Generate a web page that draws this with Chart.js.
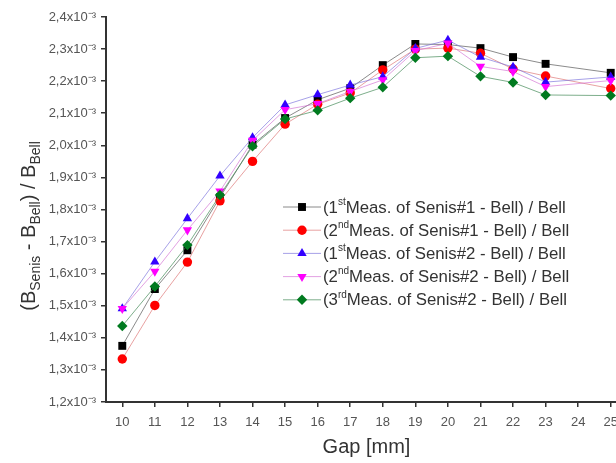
<!DOCTYPE html>
<html>
<head>
<meta charset="utf-8">
<script src="https://cdn.jsdelivr.net/npm/chart.js@4.4.0/dist/chart.umd.min.js"></script>
<style>
  html, body { margin: 0; padding: 0; background: #fff; overflow: hidden; }
  #wrap { width: 640px; height: 463px; }
</style>
</head>
<body>
<div id="wrap"><canvas id="gapChart" width="640" height="463"></canvas></div>
<script>
// values in units of 10^-3
const gaps = [10, 11, 12, 13, 14, 15, 16, 17, 18, 19, 20, 21, 22, 23, 25];
const xTicks = [10, 11, 12, 13, 14, 15, 16, 17, 18, 19, 20, 21, 22, 23, 24, 25];
const yTicks = [1.2, 1.3, 1.4, 1.5, 1.6, 1.7, 1.8, 1.9, 2.0, 2.1, 2.2, 2.3, 2.4];

const senis1Meas1 = [1.375, 1.552, 1.673, 1.838, 2.002, 2.085, 2.142, 2.178, 2.250, 2.316, 2.314, 2.303, 2.275, 2.254, 2.226];
const senis1Meas2 = [1.334, 1.501, 1.636, 1.827, 1.950, 2.066, 2.128, 2.163, 2.235, 2.300, 2.303, 2.287, 2.238, 2.216, 2.177];
const senis2Meas1 = [1.491, 1.637, 1.772, 1.905, 2.024, 2.126, 2.158, 2.188, 2.214, 2.302, 2.328, 2.275, 2.244, 2.197, 2.213];
const senis2Meas2 = [1.491, 1.607, 1.736, 1.857, 2.015, 2.111, 2.130, 2.168, 2.204, 2.295, 2.318, 2.246, 2.230, 2.183, 2.202];
const senis2Meas3 = [1.437, 1.560, 1.689, 1.845, 1.997, 2.082, 2.109, 2.147, 2.181, 2.273, 2.278, 2.215, 2.196, 2.157, 2.155];

// legend text pieces: [before, superscript, after]
const legendLabels = [
    ['(1', 'st', 'Meas. of Senis#1 - Bell) / Bell'],
    ['(2', 'nd', 'Meas. of Senis#1 - Bell) / Bell'],
    ['(1', 'st', 'Meas. of Senis#2 - Bell) / Bell'],
    ['(2', 'nd', 'Meas. of Senis#2 - Bell) / Bell'],
    ['(3', 'rd', 'Meas. of Senis#2 - Bell) / Bell']
];

const FONT = "'Liberation Sans', Arial, sans-serif";
const toPoints = (vals) => vals.map((v, i) => ({ x: gaps[i], y: v }));

const makeSet = (vals, marker, line, style, radius, rotation, order) => ({
    data: toPoints(vals),
    borderColor: line,
    borderWidth: 1,
    backgroundColor: marker,
    pointBackgroundColor: marker,
    pointBorderColor: marker,
    pointBorderWidth: 0,
    pointStyle: style,
    pointRadius: radius,
    pointRotation: rotation,
    tension: 0,
    order: order
});

const datasets = [
    makeSet(senis1Meas1, '#000000', 'rgba(90,90,90,0.7)', 'rect', 5.6, 0, 5),
    makeSet(senis1Meas2, '#ff0000', 'rgba(220,110,110,0.65)', 'circle', 4.7, 0, 4),
    makeSet(senis2Meas1, '#3300ff', 'rgba(120,110,220,0.65)', 'triangle', 5.4, 0, 3),
    makeSet(senis2Meas2, '#ff00ff', 'rgba(210,110,210,0.65)', 'triangle', 5.4, 180, 2),
    makeSet(senis2Meas3, '#007a1f', 'rgba(70,140,90,0.7)', 'rectRot', 5.2, 0, 1)
];

// y-axis title with subscripts + in-plot legend with superscripts
const annotations = {
    id: 'annotations',
    afterDraw(chart) {
        const ctx = chart.ctx;
        ctx.save();
        ctx.fillStyle = '#333';
        ctx.textBaseline = 'alphabetic';

        // y title
        const parts = [['(B', 0], ['Senis', 1], [' - B', 0], ['Bell', 1], [') / B', 0], ['Bell', 1]];
        const big = '20px ' + FONT, small = '14px ' + FONT;
        let total = 0;
        parts.forEach(([t, sub]) => { ctx.font = sub ? small : big; total += ctx.measureText(t).width; });
        ctx.translate(35, 226);
        ctx.rotate(-Math.PI / 2);
        let x = -total / 2;
        parts.forEach(([t, sub]) => {
            ctx.font = sub ? small : big;
            ctx.fillText(t, x, sub ? 5 : 0);
            x += ctx.measureText(t).width;
        });
        ctx.restore();

        // legend
        ctx.save();
        chart.data.datasets.forEach((ds, i) => {
            const y = 207 + i * 23.2;
            ctx.strokeStyle = ds.borderColor;
            ctx.lineWidth = 1;
            ctx.beginPath();
            ctx.moveTo(283, y);
            ctx.lineTo(321, y);
            ctx.stroke();
            ctx.fillStyle = ds.pointBackgroundColor;
            Chart.helpers.drawPoint(ctx, {
                pointStyle: ds.pointStyle,
                rotation: ds.pointRotation,
                radius: ds.pointRadius,
                borderWidth: 0
            }, 302, y);

            const [a, sup, b] = legendLabels[i];
            ctx.fillStyle = '#333';
            ctx.textBaseline = 'middle';
            let tx = 323;
            ctx.font = '16.8px ' + FONT;
            ctx.fillText(a, tx, y + 1);
            tx += ctx.measureText(a).width;
            ctx.font = '10px ' + FONT;
            ctx.fillText(sup, tx, y - 5);
            tx += ctx.measureText(sup).width;
            ctx.font = '16.8px ' + FONT;
            ctx.fillText(b, tx, y + 1);
        });
        ctx.restore();
    }
};

const ctx = document.getElementById('gapChart').getContext('2d');
new Chart(ctx, {
    type: 'line',
    data: { datasets },
    options: {
        responsive: false,
        animation: false,
        layout: { padding: { top: 17, right: 13, left: 0, bottom: 0 } },
        plugins: {
            legend: { display: false },
            tooltip: { enabled: false }
        },
        scales: {
            x: {
                type: 'linear',
                min: 9.5,
                max: 25.5,
                afterBuildTicks: (scale) => { scale.ticks = xTicks.map(v => ({ value: v })); },
                afterFit: (scale) => { scale.height = 61; },
                ticks: {
                    color: '#555',
                    font: { family: FONT, size: 13 },
                    padding: 8,
                    maxRotation: 0,
                    autoSkip: false
                },
                grid: { drawOnChartArea: false, drawTicks: true, tickLength: 5, color: '#333', lineWidth: 1.5 },
                border: { display: true, color: '#333', width: 2 },
                title: {
                    display: true,
                    text: 'Gap [mm]',
                    color: '#333',
                    font: { family: FONT, size: 20 },
                    padding: { top: 0, bottom: 4 }
                }
            },
            y: {
                min: 1.2,
                max: 2.4,
                afterBuildTicks: (scale) => { scale.ticks = yTicks.map(v => ({ value: v })); },
                afterFit: (scale) => { scale.width = 106; },
                ticks: {
                    color: '#555',
                    font: { family: FONT, size: 13 },
                    padding: 5,
                    callback: (v) => Number(v).toFixed(1).replace('.', ',') + 'x10\u207B\u00B3'
                },
                grid: { drawOnChartArea: false, drawTicks: true, tickLength: 5, color: '#333', lineWidth: 1.5 },
                border: { display: true, color: '#333', width: 2 }
            }
        }
    },
    plugins: [annotations]
});
</script>
</body>
</html>
